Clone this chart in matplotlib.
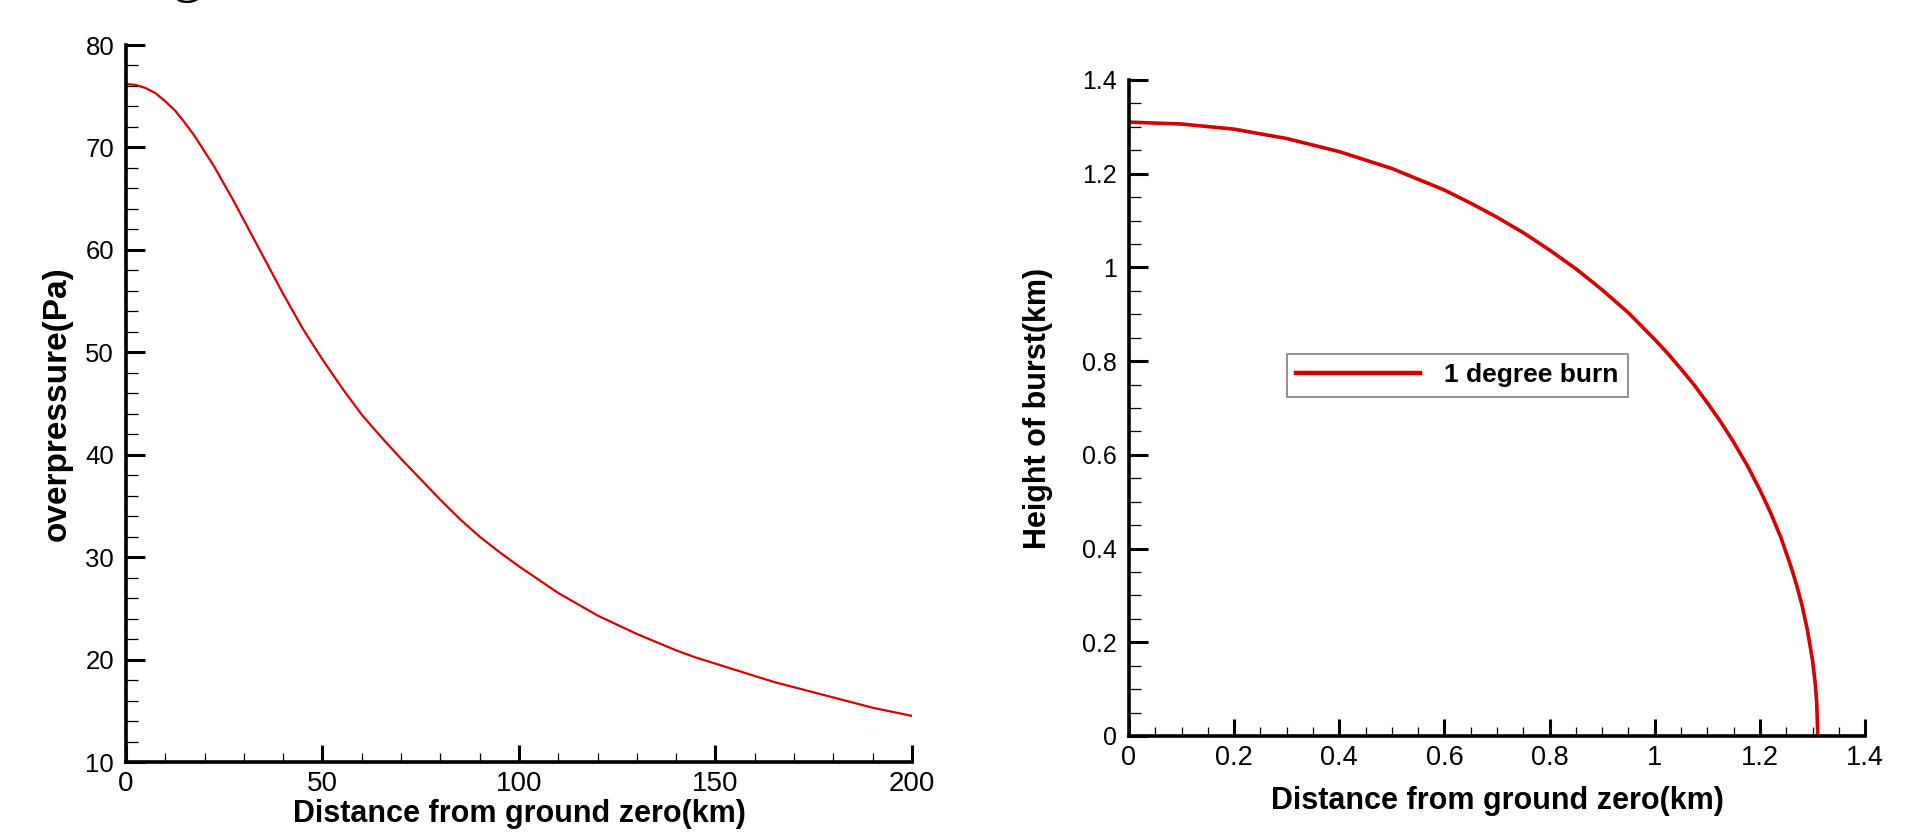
import numpy as np
import matplotlib.pyplot as plt
from matplotlib.ticker import MultipleLocator, FuncFormatter

# Datos
# Izquierda: sobrepresion vs distancia
distancia_km = [0, 2.5, 5, 7.5, 10, 12.5, 15, 17.5, 20, 22.5, 25, 27.5, 30, 32.5,
                35, 37.5, 40, 42.5, 45, 47.5, 50, 55, 60, 65, 70, 75, 80, 85, 90,
                95, 100, 105, 110, 115, 120, 125, 130, 135, 140, 145, 150, 155,
                160, 165, 170, 175, 180, 185, 190, 195, 200]
sobrepresion_pa = [76.2, 76.1, 75.8, 75.3, 74.5, 73.6, 72.4, 71.1, 69.6, 68.1,
                   66.4, 64.7, 62.9, 61.1, 59.3, 57.5, 55.7, 54.0, 52.3, 50.8,
                   49.3, 46.5, 43.9, 41.7, 39.6, 37.6, 35.6, 33.7, 32.0, 30.5,
                   29.1, 27.8, 26.5, 25.4, 24.3, 23.4, 22.5, 21.7, 20.9, 20.2,
                   19.6, 19.0, 18.4, 17.8, 17.3, 16.8, 16.3, 15.8, 15.3, 14.9, 14.5]

# Derecha: altura de explosion vs distancia (quemadura de 1 grado)
burn_x_km = [0, 0.1, 0.2, 0.3, 0.4, 0.5, 0.6, 0.65, 0.7, 0.75, 0.8, 0.85, 0.9,
             0.95, 1.0, 1.025, 1.05, 1.075, 1.1, 1.125, 1.15, 1.175, 1.2, 1.22,
             1.24, 1.26, 1.27, 1.28, 1.29, 1.30, 1.305, 1.308, 1.31]
burn_h_km = [1.31, 1.306, 1.295, 1.275, 1.247, 1.211, 1.165, 1.137, 1.107, 1.074,
             1.037, 0.997, 0.952, 0.903, 0.846, 0.816, 0.783, 0.749, 0.711, 0.671,
             0.627, 0.579, 0.525, 0.477, 0.423, 0.358, 0.321, 0.279, 0.228, 0.162,
             0.114, 0.072, 0.0]
legend_label = "1 degree burn"

RED = '#d40000'
plt.rcParams['font.family'] = ['Liberation Sans', 'DejaVu Sans']


def estilo_ejes(ax, x_major, x_minor, y_major, y_minor, xfs, yfs):
    """Ejes estilo tecplot: solo izquierda/abajo, ticks hacia dentro"""
    for s in ['top', 'right']:
        ax.spines[s].set_visible(False)
    for s in ['left', 'bottom']:
        ax.spines[s].set_linewidth(2.6)
    ax.xaxis.set_major_locator(MultipleLocator(x_major))
    ax.xaxis.set_minor_locator(MultipleLocator(x_minor))
    ax.yaxis.set_major_locator(MultipleLocator(y_major))
    ax.yaxis.set_minor_locator(MultipleLocator(y_minor))
    ax.tick_params(which='both', direction='in', top=False, right=False)
    ax.tick_params(axis='x', which='major', length=12, width=2.2, pad=6.5, labelsize=xfs)
    ax.tick_params(axis='x', which='minor', length=6.5, width=0.9)
    ax.tick_params(axis='y', which='major', length=13.5, width=2.2, pad=8.5, labelsize=yfs)
    ax.tick_params(axis='y', which='minor', length=8.5, width=0.9)


fig = plt.figure(figsize=(19.2, 8.32), dpi=100)

# Fragmento de titulo recortado arriba
fig.text(0.064, 1.012, "Fig", fontsize=43, family='Liberation Serif', va='baseline')

# Grafico izquierdo
ax1 = fig.add_axes([0.0656, 0.0841, 0.4094, 0.8618])
ax1.plot(distancia_km, sobrepresion_pa, color=RED, lw=1.6)
ax1.set_xlim(0, 200)
ax1.set_ylim(10, 80)
estilo_ejes(ax1, 50, 10, 10, 2, 20, 18.5)
ax1.set_xlabel('Distance from ground zero(km)', fontsize=22, fontweight='bold', va='baseline')
ax1.xaxis.set_label_coords(0.5, -0.084)
ax1.set_ylabel('overpressure(Pa)', fontsize=24, fontweight='bold', va='center')
ax1.yaxis.set_label_coords(-0.088, 0.5)

# Grafico derecho
ax2 = fig.add_axes([0.588, 0.1154, 0.3834, 0.7885])
ax2.plot(burn_x_km, burn_h_km, color=RED, lw=2.6, label=legend_label)
ax2.set_xlim(0, 1.4)
ax2.set_ylim(0, 1.4)
estilo_ejes(ax2, 0.2, 0.05, 0.2, 0.05, 19.5, 18)
fmt = FuncFormatter(lambda v, p: '%g' % round(v, 2))
ax2.xaxis.set_major_formatter(fmt)
ax2.yaxis.set_major_formatter(fmt)
ax2.set_xlabel('Distance from ground zero(km)', fontsize=22, fontweight='bold', va='baseline')
ax2.xaxis.set_label_coords(0.5, -0.111)
ax2.set_ylabel('Height of burst(km)', fontsize=22, fontweight='bold', va='center')
ax2.yaxis.set_label_coords(-0.124, 0.5)

leg = ax2.legend(loc='upper left', bbox_to_anchor=(0.2147, 0.582), borderaxespad=0,
                 fancybox=False, framealpha=1, edgecolor='#808080',
                 handlelength=4.7, handletextpad=0.9, borderpad=0.35,
                 prop={'size': 19, 'weight': 'bold'})
leg.get_frame().set_linewidth(1.2)
for h in leg.get_lines():
    h.set_linewidth(3.2)

plt.savefig('out.png', dpi=100)
plt.close()
